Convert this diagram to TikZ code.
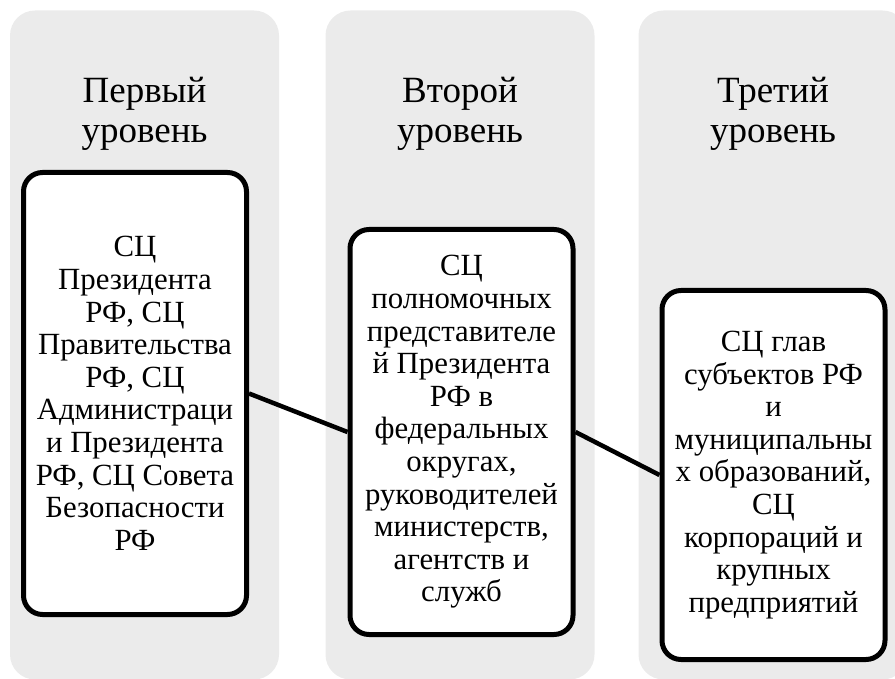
\documentclass[tikz,border=0pt]{standalone}
\usepackage{fontspec}
\setmainfont{Liberation Serif}
\definecolor{colbg}{HTML}{EBEBEB}
\tikzset{
  column/.style={fill=colbg, draw=none, rounded corners=25pt, minimum width=269pt, minimum height=669pt, inner sep=0pt},
  header/.style={align=center, inner sep=0pt, font=\fontsize{37}{40}\selectfont},
  level/.style={draw=black, line width=5pt, fill=white, rounded corners=19pt, align=center, inner sep=0pt, minimum width=223pt, font=\fontsize{30.8}{32.6}\selectfont},
  link/.style={draw=black, line width=4.5pt}
}
\begin{document}
\begin{tikzpicture}[x=1pt,y=-1pt]
\useasboundingbox (0,0) rectangle (895,679);
\begin{scope}
\clip (0,0) rectangle (895,679);
\node[column] (c1) at (144.5,345) {};
\node[column] (c2) at (460,345) {};
\node[column] (c3) at (773,345) {};
\end{scope}
\node[header] (h1) at (144.5,114) {Первый\\уровень};
\node[header] (h2) at (460,114) {Второй\\уровень};
\node[header] (h3) at (773,114) {Третий\\уровень};
\node[level, minimum height=442pt] (b1) at (135,393.5) {СЦ\\Президента\\РФ, СЦ\\Правительства\\РФ, СЦ\\Администраци\\и Президента\\РФ, СЦ Совета\\Безопасности\\РФ};
\node[level, minimum height=405pt] (b2) at (461.5,432) {СЦ\\полномочных\\представителе\\й Президента\\РФ в\\федеральных\\округах,\\руководителей\\министерств,\\агентств и\\служб};
\node[level, minimum height=369pt] (b3) at (773.5,475) {СЦ глав\\субъектов РФ\\и\\муниципальны\\х образований,\\СЦ\\корпораций и\\крупных\\предприятий};
\draw[link] (b1.east) -- (b2.west);
\draw[link] (b2.east) -- (b3.west);
\end{tikzpicture}
\end{document}
